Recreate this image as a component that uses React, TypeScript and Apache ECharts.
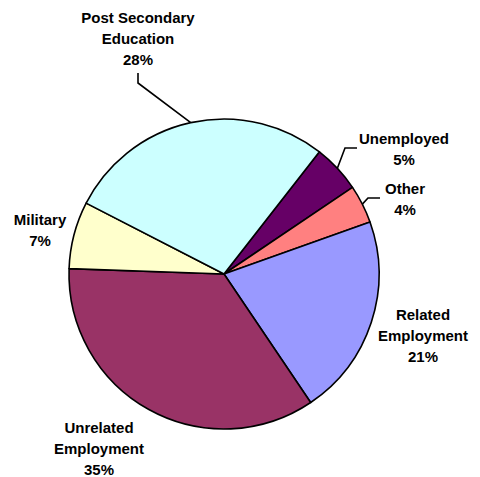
import React, { useEffect, useRef } from 'react';
import * as echarts from 'echarts';

const categories = [
  'Unemployed',
  'Other',
  'Related\nEmployment',
  'Unrelated\nEmployment',
  'Military',
  'Post Secondary\nEducation',
];
const values = [5, 4, 21, 35, 7, 28];
const colors = ['#660066', '#FF8080', '#9999FF', '#993366', '#FFFFCC', '#CCFFFF'];
const hasLeader = [true, true, false, false, false, true];
// label block centres (px)
const labelCenters: number[][] = [
  [404, 149],
  [405, 198.5],
  [423, 335],
  [99, 448],
  [40, 229.5],
  [138, 38.5],
];
// leader line elbow & end points (px)
const leaderPts: Record<number, number[][]> = {
  0: [[345, 148], [357, 148]],
  1: [[368, 198], [380, 198]],
  5: [[138, 83], [138, 73]],
};

export default function App() {
  const ref = useRef<HTMLDivElement>(null);
  useEffect(() => {
    if (!ref.current) return;
    const chart = echarts.init(ref.current, undefined, { renderer: 'svg' });
    const data = categories.map((name, i) => ({
      name,
      value: values[i],
      itemStyle: { color: colors[i] },
      labelLine: { show: hasLeader[i] },
    }));
    chart.setOption({
      animation: false,
      backgroundColor: '#ffffff',
      series: [
        {
          type: 'pie',
          center: [224, 274],
          radius: 155,
          startAngle: 52,
          clockwise: true,
          avoidLabelOverlap: false,
          data,
          itemStyle: { borderColor: '#000', borderWidth: 1.6 },
          label: {
            show: true,
            position: 'outside',
            formatter: '{b}\n{d}%',
            fontFamily: 'Arial, "Liberation Sans", sans-serif',
            fontWeight: 'bold',
            fontSize: 15,
            lineHeight: 21,
            color: '#000',
            align: 'center',
          },
          labelLine: {
            show: true,
            length: 15,
            length2: 12,
            lineStyle: { color: '#000', width: 1.6 },
          },
          labelLayout: (p: any) => {
            const i = p.dataIndex;
            const [cx, cy] = labelCenters[i];
            const out: any = { x: cx, y: cy, align: 'center', verticalAlign: 'middle' };
            if (hasLeader[i] && p.labelLinePoints && p.labelLinePoints[0]) {
              const edge = p.labelLinePoints[0];
              out.labelLinePoints = [[edge[0], edge[1]], leaderPts[i][0], leaderPts[i][1]];
            }
            return out;
          },
          emphasis: { disabled: true },
        },
      ],
    });
    return () => chart.dispose();
  }, []);
  return (
    <div
      ref={ref}
      style={{ position: 'fixed', left: 0, top: 0, width: 480, height: 477 }}
    />
  );
}
